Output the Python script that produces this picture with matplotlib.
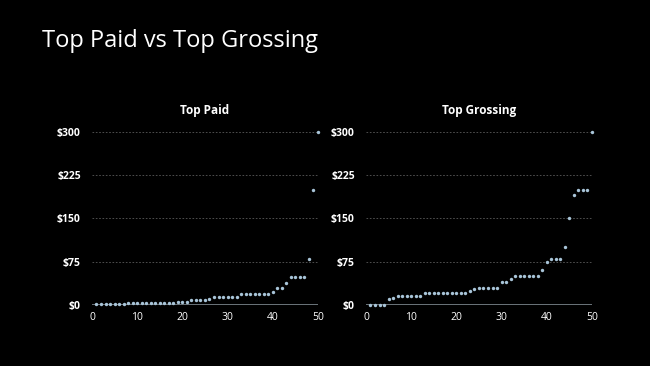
import matplotlib
matplotlib.use('Agg')
import matplotlib.pyplot as plt
import numpy as np

ranks = list(range(1, 51))

# prices of the top 50 paid apps, sorted
top_paid = [0.99, 0.99, 0.99, 0.99, 0.99, 1.99, 1.99, 2.99, 2.99, 2.99,
            2.99, 2.99, 2.99, 2.99, 2.99, 2.99, 2.99, 2.99, 4.99, 4.99,
            4.99, 7.99, 7.99, 7.99, 8.99, 9.99, 13.99, 13.99, 13.99, 13.99,
            13.99, 13.99, 18.99, 18.99, 18.99, 18.99, 18.99, 18.99, 18.99, 22.99,
            28.99, 28.99, 37.99, 47.99, 47.99, 47.99, 47.99, 79.99, 199.99, 299.99]

# prices of the top 50 grossing apps, sorted
top_grossing = [0, 0, 0, 0, 9.99, 11.99, 14.99, 14.99, 14.99, 14.99,
                14.99, 14.99, 19.99, 19.99, 19.99, 19.99, 19.99, 19.99, 19.99, 19.99,
                19.99, 19.99, 24.99, 27.99, 29.99, 29.99, 29.99, 29.99, 29.99, 39.99,
                39.99, 44.99, 49.99, 49.99, 49.99, 49.99, 49.99, 49.99, 59.99, 74.99,
                79.99, 79.99, 79.99, 99.99, 149.99, 189.99, 199.99, 199.99, 199.99, 299.99]

y_ticks = [0, 75, 150, 225, 300]
y_labels = ['$0', '$75', '$150', '$225', '$300']
x_ticks = [0, 10, 20, 30, 40, 50]

plt.rcParams['font.family'] = ['Open Sans', 'DejaVu Sans']

fig = plt.figure(figsize=(6.5, 3.66), dpi=100, facecolor='black')
fig.text(0.064, 0.887, 'Top Paid vs Top Grossing', color='white', fontsize=17,
         va='center', ha='left')

dot_color = '#a8c4d8'


def draw(ax, values, title):
    ax.set_facecolor('black')
    ax.scatter(ranks, values, s=6, color=dot_color, clip_on=False, zorder=3,
               linewidths=0)
    ax.set_xlim(0, 50)
    ax.set_ylim(0, 300)
    for y in y_ticks[1:]:
        ax.axhline(y, color='#5a5a5a', linewidth=0.6, linestyle=(0, (2, 2)), zorder=1)
    ax.axhline(0, color='#7d8890', linewidth=1.2, zorder=2)
    for s in ax.spines.values():
        s.set_visible(False)
    ax.set_yticks(y_ticks)
    ax.set_yticklabels(y_labels)
    ax.set_xticks(x_ticks)
    ax.tick_params(length=0, colors='white', labelsize=7.5)
    ax.tick_params(axis='y', pad=8)
    ax.tick_params(axis='x', pad=5)
    for lab in ax.get_yticklabels():
        lab.set_fontweight('bold')
    ax.set_title(title, color='white', fontsize=8.5, fontweight='bold', pad=13)


ax1 = fig.add_axes([0.1415, 0.1667, 0.3477, 0.4727])
ax2 = fig.add_axes([0.563, 0.1667, 0.3477, 0.4727])
draw(ax1, top_paid, 'Top Paid')
draw(ax2, top_grossing, 'Top Grossing')

fig.savefig('out.png', dpi=100, facecolor='black')
